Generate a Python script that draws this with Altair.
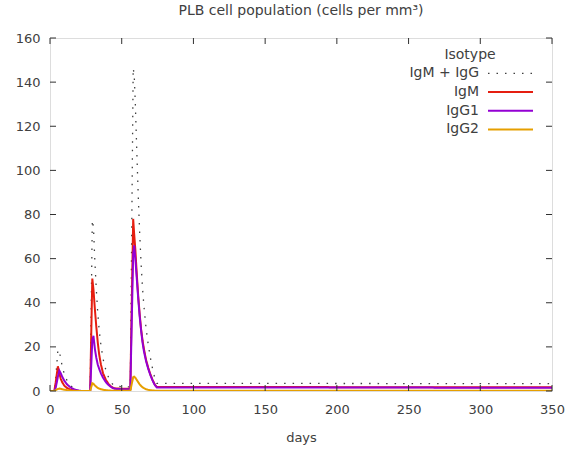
import altair as alt
import pandas as pd

# ---- data ----
days = [0, 3, 4, 5.5, 6.5, 7.5, 8.5, 10, 12, 14, 16, 18, 20, 22,
        28, 29.5, 30.3, 31.3, 32.3, 33.3, 34.3, 35.5, 37, 39, 41, 43, 45, 50, 56,
        58, 58.7, 59.5, 60.5, 61.5, 62.5, 63.5, 64.5, 65.5, 67, 68.5, 70, 71.5, 73, 74.5, 350]

igm = [0, 0, 4, 11.2, 8, 5.5, 4, 2.4, 1.3, 0.7, 0.35, 0.15, 0.05, 0,
       0, 51, 46, 37, 29, 22, 16.5, 12, 8, 5, 3, 1.8, 1.2, 1.0, 1.0,
       78, 71, 64, 53, 43, 35, 28, 23, 19, 14, 10.5, 7.5, 5, 3, 1.8, 1.7]

igg1 = [0, 0, 1.5, 6.5, 9.2, 8, 6.5, 4.6, 2.9, 1.8, 1.0, 0.5, 0.2, 0,
        0, 23, 25, 19, 15, 12, 10, 8, 6, 4, 2.6, 1.6, 1.0, 0.8, 0.8,
        62, 66, 60, 51, 42, 34, 27.5, 22, 18, 13.5, 10, 7.2, 4.8, 2.8, 1.6, 1.5]

igg2 = [0, 0, 0.4, 0.9, 1.1, 1.0, 0.8, 0.6, 0.35, 0.2, 0.1, 0.05, 0, 0,
        0, 3.5, 3.3, 2.5, 1.9, 1.4, 1.1, 0.8, 0.55, 0.35, 0.25, 0.15, 0.1, 0.1, 0.1,
        6.3, 6.5, 6.0, 5.0, 4.0, 3.0, 2.3, 1.7, 1.3, 0.8, 0.5, 0.35, 0.25, 0.15, 0.1, 0.1]

series = ["IgM + IgG", "IgM", "IgG1", "IgG2"]
colors = ["#404040", "#e51e10", "#9400d3", "#e69f00"]
dashes = [[1.5, 7], [1, 0], [1, 0], [1, 0]]

x_ticks = [0, 50, 100, 150, 200, 250, 300, 350]
y_ticks = [0, 20, 40, 60, 80, 100, 120, 140, 160]

total = [a + b + c for a, b, c in zip(igm, igg1, igg2)]

rows = []
for name, vals in zip(series, [total, igm, igg1, igg2]):
    for d, v in zip(days, vals):
        rows.append({"day": d, "value": v, "series": name})
df = pd.DataFrame(rows)

W, H = 502, 353
FONT = "DejaVu Sans"
TXT = "#404040"

xscale = alt.Scale(domain=[0, 350], nice=False, zero=False, padding=0)
yscale = alt.Scale(domain=[0, 160], nice=False, padding=0)
cscale = alt.Scale(domain=series, range=colors)
dscale = alt.Scale(domain=series, range=dashes)

layers = []
for i, s in enumerate(series):
    layers.append(
        alt.Chart(df).transform_filter(alt.datum.series == s)
        .mark_line(strokeWidth=1.3 if i == 0 else 2, clip=True)
        .encode(
            x=alt.X("day:Q", scale=xscale,
                    axis=alt.Axis(values=x_ticks, title="days", tickSize=0, domain=False,
                                  grid=False, labelPadding=12, titlePadding=15,
                                  labelFlush=False, labelOverlap=False,
                                  labelFontSize=13, titleFontSize=13, labelFont=FONT,
                                  titleFont=FONT, labelColor=TXT, titleColor=TXT,
                                  titleFontWeight="normal")),
            y=alt.Y("value:Q", scale=yscale,
                    axis=alt.Axis(values=y_ticks, title=None, tickSize=0, domain=False,
                                  grid=False, labelPadding=10, labelFontSize=13,
                                  labelFlush=False, labelOverlap=False,
                                  labelFont=FONT, labelColor=TXT)),
            color=alt.Color("series:N", scale=cscale, legend=None),
            strokeDash=alt.StrokeDash("series:N", scale=dscale, legend=None),
        )
    )

# inward ticks (gnuplot style), placed through the data scales
xt = pd.DataFrame({"t": x_ticks})
yt = pd.DataFrame({"v": y_ticks})
tick_color = "#303030"
for y1, y2 in [(H, H - 6), (0, 6)]:
    layers.append(alt.Chart(xt).mark_rule(color=tick_color, strokeWidth=1).encode(
        x=alt.X("t:Q", scale=xscale), y=alt.value(y1), y2=alt.value(y2)))
for x1, x2 in [(0, 6), (W, W - 6)]:
    layers.append(alt.Chart(yt).mark_rule(color=tick_color, strokeWidth=1).encode(
        y=alt.Y("v:Q", scale=yscale), x=alt.value(x1), x2=alt.value(x2)))

# gnuplot-style key: title, right-aligned labels, sample line on the right
layers.append(alt.Chart(pd.DataFrame({"t": ["Isotype"]})).mark_text(
    x=420, y=17, align="center", baseline="middle", fontSize=14, font=FONT, color=TXT
).encode(text="t:N"))
for i, s in enumerate(series):
    yy = 35.3 + i * 18.7
    sub = pd.DataFrame({"series": [s]})
    layers.append(alt.Chart(sub).mark_text(
        x=429, y=yy, align="right", baseline="middle", fontSize=14, font=FONT, color=TXT
    ).encode(text="series:N"))
    layers.append(alt.Chart(sub).mark_rule(strokeWidth=1.3 if i == 0 else 2).encode(
        x=alt.value(438), x2=alt.value(483), y=alt.value(yy),
        color=alt.Color("series:N", scale=cscale, legend=None),
        strokeDash=alt.StrokeDash("series:N", scale=dscale, legend=None)))

chart = alt.layer(*layers).properties(
    width=W, height=H,
    title=alt.TitleParams("PLB cell population (cells per mm³)", fontSize=14, font=FONT,
                          color=TXT, fontWeight="normal", anchor="middle", offset=14),
    autosize=alt.AutoSizeParams(type="none"),
    padding={"left": 50, "top": 38, "right": 21, "bottom": 61},
).configure_view(stroke="#303030", strokeWidth=1).configure(background="white")

chart.save("out.html", embed_options={"renderer": "svg", "actions": False})
